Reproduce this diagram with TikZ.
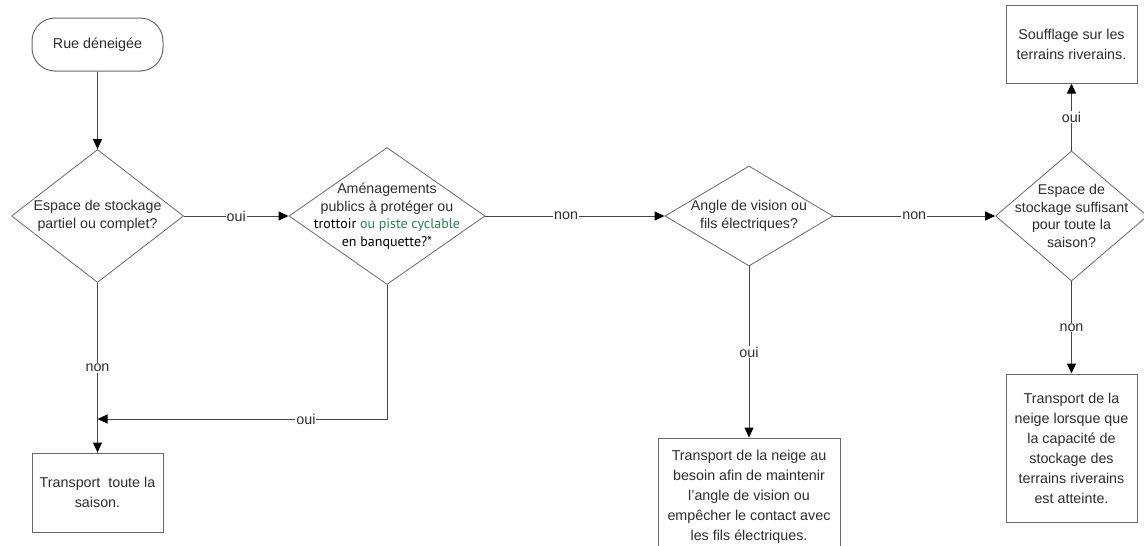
\documentclass[tikz,border=0pt]{standalone}
\usepackage{fontspec}
\setmainfont{Liberation Sans}
\newfontfamily\humanist{PT Sans}
\usetikzlibrary{shapes.geometric,arrows.meta}

\definecolor{linegray}{RGB}{70,70,70}
\definecolor{bordergray}{RGB}{105,105,105}
\definecolor{textgray}{RGB}{45,45,45}
\definecolor{cyclegreen}{RGB}{38,128,78}

\tikzset{
	flowline/.style={draw=linegray,line width=1pt,-{Triangle[length=10pt,width=9pt,color=black]}},
	plainline/.style={draw=linegray,line width=1pt},
	decision/.style={diamond,draw=bordergray,line width=0.8pt,inner sep=0pt},
	dtext/.style={align=center,inner sep=0pt,font=\fontsize{14.2}{17.5}\selectfont,text=textgray},
	actionbox/.style={rectangle,draw=bordergray,line width=1pt,inner sep=0pt,align=center,font=\fontsize{14.3}{20}\selectfont,text=textgray},
	startbox/.style={rectangle,rounded corners=23pt,draw=bordergray,line width=1pt,font=\fontsize{14.3}{17}\selectfont,text=textgray},
	answer/.style={fill=white,inner sep=1pt,font=\fontsize{14.3}{16}\selectfont,text=textgray}
}

\begin{document}
\begin{tikzpicture}[x=1pt,y=-1pt]

	\useasboundingbox (0,0) rectangle (1144,546);
	\clip (0,0) rectangle (1144,546);
	\fill[white] (0,0) rectangle (1144,546);

	% start
	\node[startbox,minimum width=131pt,minimum height=53pt] (start) at (97.5,44.5) {Rue déneigée};

	% decisions
	\node[decision,minimum width=172pt,minimum height=133pt] (q1) at (97.5,216) {};
	\node[dtext] (q1t) at (q1) {Espace de stockage\\partiel ou complet?};

	\node[decision,minimum width=196pt,minimum height=137pt] (q2) at (387,216) {};
	\node[dtext] (q2t) at (q2) {Aménagements\\publics à protéger ou\\{\humanist\fontsize{14}{17}\selectfont\color{black}trottoir \textcolor{cyclegreen}{ou piste cyclable}}\\{\humanist\fontsize{14}{17}\selectfont\color{black}en banquette?*}};

	\node[decision,minimum width=168pt,minimum height=100pt] (q3) at (749,216) {};
	\node[dtext] (q3t) at (q3) {Angle de vision ou\\fils électriques?};

	\node[decision,minimum width=152pt,minimum height=130pt] (q4) at (1071.5,216) {};
	\node[dtext] (q4t) at (q4) {Espace de\\stockage suffisant\\pour toute la\\saison?};

	% actions
	\node[actionbox,minimum width=131pt,minimum height=79pt] (saison) at (97.5,492.5) {Transport~ toute la\\saison.};
	\node[actionbox,minimum width=182pt,minimum height=118pt] (besoin) at (749,497) {Transport de la neige au\\besoin afin de maintenir\\l'angle de vision ou\\empêcher le contact avec\\les fils électriques.};
	\node[actionbox,minimum width=131pt,minimum height=78pt] (souffle) at (1071.5,44) {Soufflage sur les\\terrains riverains.};
	\node[actionbox,minimum width=131pt,minimum height=148pt] (riverains) at (1071.5,448) {Transport de la\\neige lorsque que\\la capacité de\\stockage des\\terrains riverains\\est atteinte.};

	\coordinate (merge) at (97.5,419);

	% connectors
	\draw[flowline] (start) -- (q1.north);
	\draw[flowline] (q1.east) -- node[answer] {oui} (q2.west);
	\draw[plainline] (q1.south) -- node[answer] {non} (saison.north);
	\draw[flowline] (merge) -- (saison.north);
	\draw[flowline] (q2.south) |- node[answer,pos=0.64] {oui} (merge);
	\draw[flowline] (q2.east) -- node[answer,pos=0.45] {non} (q3.west);
	\draw[flowline] (q3.east) -- node[answer] {non} (q4.west);
	\draw[flowline] (q3.south) -- node[answer] {oui} (besoin.north);
	\draw[flowline] (q4.north) -- node[answer] {oui} (souffle.south);
	\draw[flowline] (q4.south) -- node[answer] {non} (riverains.north);

\end{tikzpicture}
\end{document}
